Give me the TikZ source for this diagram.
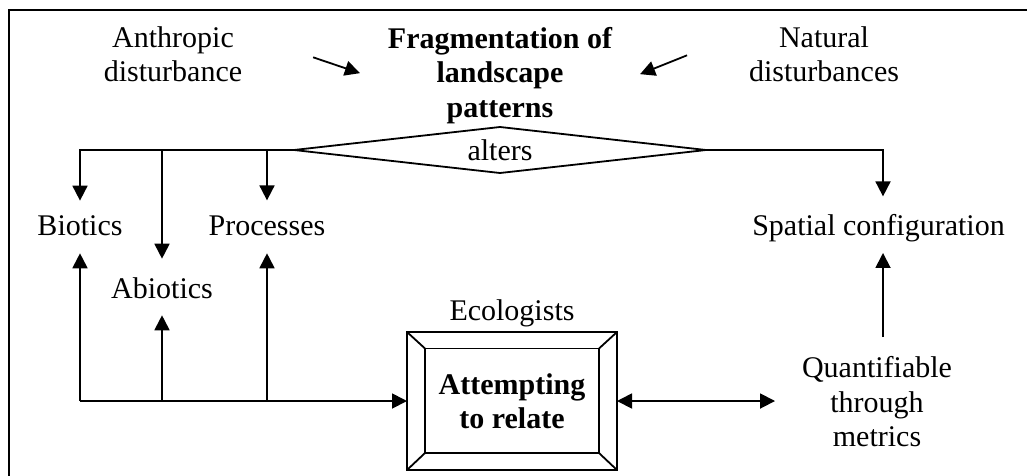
\documentclass[tikz,border=0pt]{standalone}
\usepackage{fontspec}
\setmainfont{Liberation Serif}
\usetikzlibrary{shapes.geometric,arrows.meta}
\newcommand{\figfont}[0]{\fontsize{30}{34.5}\selectfont}

\begin{document}
\begin{tikzpicture}[x=1pt,y=-1pt,line width=1.8pt,
	every node/.style={font=\figfont, inner sep=0pt, outer sep=0pt},
	textblock/.style={align=center, anchor=north},
	oneline/.style={anchor=base},
	bold/.style={font=\figfont\bfseries},
	arr/.style={-{Triangle[length=15pt,width=15pt]}},
	twoarr/.style={{Triangle[length=15pt,width=15pt]}-{Triangle[length=15pt,width=15pt]}}]

	%Fix the page and draw the frame (cut at right and bottom)
	\useasboundingbox (0,0) rectangle (1027,475);
	\draw (9,480) -- (9,10) -- (1030,10);

	%Top row: the two disturbances and the fragmentation
	\node[textblock] (anthropic) at (173,26.5) {Anthropic\\disturbance};
	\node[textblock,bold] (frag) at (500,27.3) {Fragmentation of\\landscape\\patterns};
	\node[textblock] (natural) at (824,26.5) {Natural\\disturbances};
	\draw[arr] ([xshift=71pt,yshift=-3pt]anthropic.east) -- ([xshift=-28pt,yshift=2.4pt]frag.west);
	\draw[arr] ([xshift=-62pt,yshift=-1pt]natural.west) -- ([xshift=28pt,yshift=1.4pt]frag.east);

	%The decision diamond
	\node[diamond, draw, aspect=9, minimum width=412pt, minimum height=46pt] (alters) at (500,150) {alters};

	%What is altered
	\node[oneline] (biotics) at (80,235) {Biotics};
	\node[oneline] (processes) at (267,235) {Processes};
	\node[oneline] (abiotics) at (162,298) {Abiotics};
	\node[oneline] (spatial) at (878.5,235) {Spatial configuration};

	\draw[arr, shorten >=14.5pt] (alters.west) -| (biotics.north);
	\draw[arr, shorten >=18.5pt] (abiotics.north |- alters.west) -- (abiotics.north);
	\draw[arr, shorten >=15pt] (processes.north |- alters.west) -- (processes.north);
	\draw[arr, shorten >=17.5pt] (alters.east) -| ([xshift=4.5pt]spatial.north);

	%Ecologists box with bevelled frame
	\node[oneline] (ecologists) at (512,320) {Ecologists};
	\node[draw, rectangle, minimum width=210pt, minimum height=138pt, align=center, bold] (relate) at (512,401) {Attempting\\to relate};
	\draw ([shift={(18pt,-16.5pt)}]relate.north west) coordinate (inw) rectangle ([shift={(-18pt,17pt)}]relate.south east) coordinate (ise);
	\draw (relate.north west) -- (inw);
	\draw (relate.south east) -- (ise);
	\draw (relate.north east) -- (ise |- inw);
	\draw (relate.south west) -- (inw |- ise);

	%Bus from the box back to the altered items
	\coordinate (lbus) at (biotics.south |- relate.west);
	\draw[arr] (lbus) -- (relate.west);
	\draw[arr, shorten >=18pt] (lbus) -- (biotics.south);
	\draw[arr, shorten >=17pt] (abiotics.south |- lbus) -- (abiotics.south);
	\draw[arr, shorten >=18pt] (processes.south |- lbus) -- (processes.south);

	%Metrics
	\node[textblock] (quant) at (877,356.5) {Quantifiable\\through\\metrics};
	\draw[twoarr, shorten >=27pt] (relate.east) -- (quant.west |- relate.east);
	\draw[arr, shorten <=19.5pt, shorten >=11.5pt] ([xshift=6pt]quant.north) -- ([xshift=6pt]quant.north |- spatial.south);

\end{tikzpicture}
\end{document}
